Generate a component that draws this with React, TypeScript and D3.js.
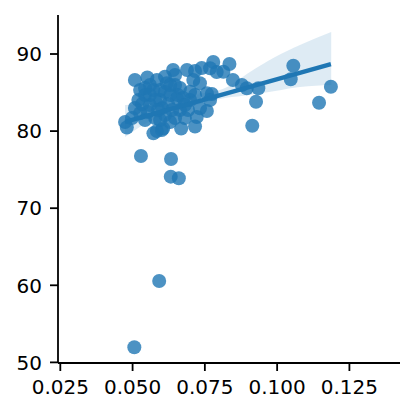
import React from "react";
import * as d3 from "d3";

const xValues = [
  0.0506, 0.0592, 0.0529, 0.0633, 0.0632, 0.066, 0.1186, 0.1145, 0.1056, 0.1047,
  0.0914, 0.0927, 0.0935, 0.0895, 0.0878, 0.0847, 0.0835, 0.0814, 0.0779, 0.0739,
  0.0716, 0.0688, 0.064, 0.0768, 0.0791, 0.0551, 0.0508, 0.0584, 0.0618, 0.0572,
  0.0612, 0.071, 0.0733, 0.0699, 0.0757, 0.0774, 0.0768, 0.0733, 0.0757, 0.0722,
  0.0716, 0.0668, 0.0653, 0.052, 0.0526, 0.0474, 0.048, 0.0584, 0.0601, 0.0606,
  0.0572, 0.0543, 0.056, 0.0595, 0.063, 0.0647, 0.0664, 0.0612, 0.0681, 0.0578,
  0.0543, 0.0508, 0.063, 0.0595, 0.0664, 0.0699, 0.056, 0.0526, 0.0681, 0.0647,
  0.0602, 0.0553, 0.0498, 0.0623, 0.0657, 0.0716, 0.056, 0.0588, 0.0637, 0.0612,
  0.0675, 0.0578, 0.0533, 0.0647, 0.0692, 0.0595, 0.063, 0.0543,
];
const yValues = [
  51.96, 60.56, 76.77, 76.38, 74.09, 73.88, 85.76, 83.68, 88.48, 86.72,
  80.7, 83.81, 85.55, 85.55, 85.98, 86.63, 88.7, 87.7, 88.96, 88.18,
  87.8, 87.92, 87.92, 88.15, 87.67, 86.95, 86.63, 86.63, 86.2, 85.33,
  87.06, 86.63, 86.2, 85.11, 84.9, 84.81, 84.03, 82.96, 82.61, 81.83,
  80.6, 80.34, 84.25, 84.03, 82.31, 81.18, 80.47, 80.01, 80.14, 80.36,
  79.71, 84.68, 83.39, 84.03, 84.68, 85.98, 82.74, 82.09, 83.39, 81.7,
  81.44, 83.0, 81.18, 85.33, 85.59, 84.03, 85.98, 85.33, 81.7, 87.28,
  83.0, 82.48, 81.7, 83.52, 84.68, 84.68, 84.68, 82.74, 82.74, 85.07,
  84.29, 84.03, 83.51, 81.7, 82.74, 81.44, 85.98, 85.59,
];

// 95% confidence band of the regression
const ciX = [0.0474, 0.056, 0.0647, 0.0733, 0.082, 0.0906, 0.0993, 0.1079, 0.1187];
const ciLow = [79.23, 81.31, 82.67, 83.52, 84.29, 84.68, 85.2, 85.72, 85.98];
const ciHigh = [83.39, 83.52, 83.97, 84.81, 85.59, 87.67, 89.61, 91.17, 92.85];

const xTicks = [0.025, 0.05, 0.075, 0.1, 0.125];
const yTicks = [50, 60, 70, 80, 90];

const COLOR = "#1f77b4";
const FONT = "'DejaVu Sans', sans-serif";

export default function App() {
  const left = 58;
  const right = 400;
  const top = 15;
  const bottom = 363;

  const x = d3.scaleLinear().domain([0.0242, 0.1425]).range([left, right]);
  const y = d3.scaleLinear().domain([49.92, 95.06]).range([bottom, top]);

  const n = xValues.length;
  const mx = d3.mean(xValues) as number;
  const my = d3.mean(yValues) as number;
  let sxy = 0;
  let sxx = 0;
  for (let i = 0; i < n; i++) {
    sxy += (xValues[i] - mx) * (yValues[i] - my);
    sxx += (xValues[i] - mx) ** 2;
  }
  const slope = sxy / sxx;
  const intercept = my - slope * mx;
  const [x0, x1] = d3.extent(xValues) as [number, number];
  const fit = [x0, x1].map((v) => [v, intercept + slope * v] as [number, number]);

  const line = d3
    .line<[number, number]>()
    .x((d) => x(d[0]))
    .y((d) => y(d[1]));

  const area = d3
    .area<number>()
    .x((_, i) => x(ciX[i]))
    .y0((_, i) => y(ciLow[i]))
    .y1((_, i) => y(ciHigh[i]))
    .curve(d3.curveMonotoneX);

  return (
    <svg
      width={415}
      height={414}
      style={{ position: "absolute", left: 0, top: 0, background: "#fff" }}
    >
      <rect width={415} height={414} fill="#fff" />
      <g>
        {xValues.map((v, i) => (
          <circle key={i} cx={x(v)} cy={y(yValues[i])} r={7} fill={COLOR} fillOpacity={0.8} />
        ))}
      </g>
      <path d={area(ciX) || ""} fill={COLOR} fillOpacity={0.15} stroke="none" />
      <path d={line(fit) || ""} fill="none" stroke={COLOR} strokeWidth={4.2} />

      <line x1={left} x2={left} y1={top} y2={bottom} stroke="#000" strokeWidth={1.8} />
      <line x1={left} x2={right} y1={bottom} y2={bottom} stroke="#000" strokeWidth={1.8} />
      {yTicks.map((t) => (
        <g key={"y" + t}>
          <line x1={left - 8} x2={left} y1={y(t)} y2={y(t)} stroke="#000" strokeWidth={1.8} />
          <text
            x={42}
            y={y(t) + 7.3}
            textAnchor="end"
            fontFamily={FONT}
            fontSize={20}
            fill="#000"
          >
            {t}
          </text>
        </g>
      ))}
      {xTicks.map((t) => (
        <g key={"x" + t}>
          <line x1={x(t)} x2={x(t)} y1={bottom} y2={bottom + 8} stroke="#000" strokeWidth={1.8} />
          <text
            x={x(t)}
            y={394}
            textAnchor="middle"
            fontFamily={FONT}
            fontSize={20}
            fill="#000"
          >
            {d3.format(".3f")(t)}
          </text>
        </g>
      ))}
    </svg>
  );
}
